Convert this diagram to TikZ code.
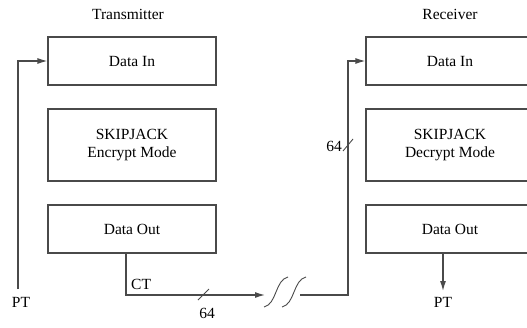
\documentclass[tikz,border=0pt]{standalone}
\usepackage{fontspec}
\setmainfont{Liberation Serif}
\usetikzlibrary{arrows.meta}
\definecolor{wire}{HTML}{4A4A4A}
\tikzset{
  unit/.style={draw=wire, line width=1.2pt, minimum width=168pt, inner sep=0pt, align=center},
  wireline/.style={draw=wire, line width=1.2pt},
  flow/.style={wireline, -{Latex[length=10pt,width=6pt]}},
  lbl/.style={inner sep=0pt, font=\fontsize{15.5}{18}\selectfont},
}
\begin{document}
\begin{tikzpicture}[x=1pt, y=-1pt, font=\fontsize{15.5}{18}\selectfont]
\useasboundingbox (0,0) rectangle (527,327);
\clip (0,0) rectangle (527,327);

% transmitter column
\node[lbl] (txtitle) at (128,14) {Transmitter};
\node[unit, minimum height=48pt] (txin) at (132,61) {Data In};
\node[unit, minimum height=72pt] (txcore) at (132,145) {SKIPJACK\\ Encrypt Mode};
\node[unit, minimum height=48pt] (txout) at (132,229) {Data Out};

% receiver column
\node[lbl] (rxtitle) at (450,14) {Receiver};
\node[unit, minimum height=48pt] (rxin) at (450,61) {Data In};
\node[unit, minimum height=72pt] (rxcore) at (450,145) {SKIPJACK\\ Decrypt Mode};
\node[unit, minimum height=48pt] (rxout) at (450,229) {Data Out};

% plaintext input
\coordinate (ptsrc) at (18,289);
\node[lbl] (ptin) at (21,302) {PT};
\draw[flow] (ptsrc) |- (txin.west);

% ciphertext channel
\coordinate (ctbend) at (126,295);
\coordinate (ctend) at (265,295);
\node[lbl, anchor=south west] (ctlbl) at (131,290) {CT};
\draw[flow] (txout.south -| ctbend) -- (ctbend) -- (ctend);
\draw[wireline, line width=0.9pt] (198,300) -- (209,289);
\node[lbl] (bitsa) at (207,313) {64};

% break in the line
\draw[wireline, line width=0.9pt] (264,307) .. controls (277,304) and (275,280) .. (288,277);
\draw[wireline, line width=0.9pt] (282,307) .. controls (295,304) and (293,280) .. (306,277);

% ciphertext into the receiver
\coordinate (rxstart) at (300,295);
\coordinate (rxbend) at (348,295);
\draw[flow] (rxstart) -- (rxbend) |- (rxin.west);
\draw[wireline, line width=0.9pt] (343,151) -- (353,139);
\node[lbl, anchor=east] (bitsb) at (342,146) {64};

% plaintext output
\coordinate (ptdst) at (443,291);
\draw[flow] (rxout.south -| ptdst) -- (ptdst);
\node[lbl] (ptout) at (443,302) {PT};
\end{tikzpicture}
\end{document}
